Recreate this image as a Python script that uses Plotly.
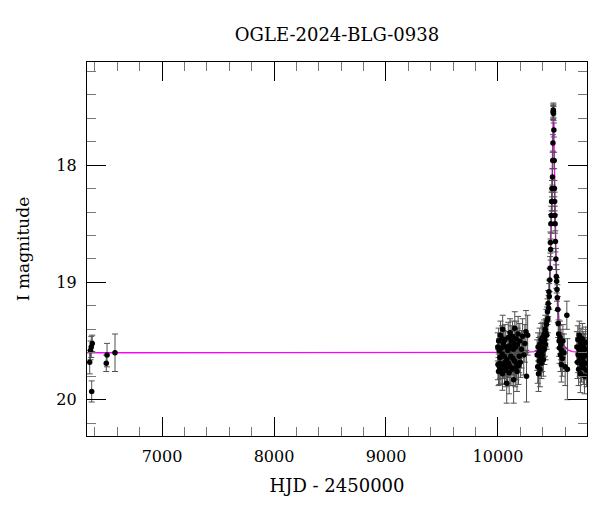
import plotly.graph_objects as go

# ---- photometry (HJD-2450000, I mag, error) ----
hjd_early = [6354, 6362, 6368, 6372, 6377, 6502, 6509, 6580]
mag_early = [19.68, 19.58, 19.55, 19.93, 19.52, 19.69, 19.62, 19.60]
err_early = [0.10, 0.08, 0.09, 0.09, 0.07, 0.07, 0.10, 0.16]

hjd_s1 = [9998, 10000, 10005, 10006, 10010, 10012, 10018, 10020, 10022, 10027,
          10030, 10035, 10038, 10040, 10042, 10048, 10050, 10055, 10058, 10062,
          10065, 10070, 10072, 10078, 10080, 10085, 10088, 10092, 10095, 10100,
          10103, 10108, 10110, 10115, 10118, 10122, 10125, 10130, 10133, 10138,
          10140, 10145, 10148, 10150, 10155, 10158, 10163, 10165, 10170, 10175,
          10180, 10183, 10190, 10195, 10200, 10210, 10220, 10230, 10240, 10250,
          10255, 10265]
mag_s1 = [19.55, 19.70, 19.76, 19.50, 19.58, 19.72, 19.64, 19.69, 19.45, 19.74,
          19.56, 19.48, 19.61, 19.78, 19.40, 19.70, 19.52, 19.63, 19.73, 19.49,
          19.68, 19.55, 19.75, 19.86, 19.66, 19.71, 19.58, 19.47, 19.69, 19.77,
          19.54, 19.43, 19.72, 19.63, 19.50, 19.56, 19.74, 19.46, 19.65, 19.57,
          19.83, 19.52, 19.67, 19.39, 19.73, 19.55, 19.48, 19.69, 19.76, 19.53,
          19.44, 19.71, 19.63, 19.50, 19.68, 19.57, 19.46, 19.62, 19.52, 19.42,
          19.80, 19.45]
err_s1 = [0.12, 0.13, 0.12, 0.11, 0.10, 0.15, 0.11, 0.13, 0.12, 0.12,
          0.10, 0.11, 0.15, 0.14, 0.12, 0.12, 0.11, 0.12, 0.14, 0.13,
          0.12, 0.13, 0.14, 0.17, 0.13, 0.15, 0.11, 0.13, 0.12, 0.18,
          0.12, 0.12, 0.16, 0.14, 0.13, 0.15, 0.14, 0.13, 0.14, 0.12,
          0.20, 0.12, 0.15, 0.14, 0.16, 0.13, 0.15, 0.14, 0.17, 0.14,
          0.15, 0.16, 0.14, 0.15, 0.13, 0.16, 0.15, 0.17, 0.16, 0.18,
          0.22, 0.17]

hjd_s2 = [10350, 10355, 10358, 10362, 10365, 10368, 10372, 10375, 10378, 10382,
          10385, 10388, 10392, 10395, 10398, 10402, 10405, 10408, 10412, 10415,
          10418, 10422, 10425, 10428, 10432, 10435, 10438, 10442, 10445, 10448,
          10452, 10455, 10458, 10462, 10465, 10468, 10470, 10473, 10476, 10479,
          10482, 10484, 10487, 10489, 10491, 10493, 10494, 10495, 10496, 10499,
          10502, 10504, 10506, 10508, 10510, 10513, 10517, 10521, 10524, 10527,
          10530, 10534, 10538, 10542, 10546, 10550, 10554, 10558, 10562, 10566,
          10570, 10575, 10580, 10590, 10600, 10615, 10620]
mag_s2 = [19.62, 19.72, 19.55, 19.78, 19.60, 19.67, 19.53, 19.74, 19.58, 19.64,
          19.49, 19.69, 19.56, 19.62, 19.47, 19.58, 19.66, 19.51, 19.44, 19.57,
          19.49, 19.40, 19.53, 19.43, 19.36, 19.45, 19.33, 19.25, 19.31, 19.18,
          19.22, 19.08, 19.12, 18.98, 18.88, 18.66, 18.72, 18.50, 18.43, 18.31,
          18.20, 18.31, 18.10, 17.96, 17.81, 17.55, 17.53, 17.54, 17.56, 17.70,
          17.96, 18.20, 18.31, 18.43, 18.50, 18.65, 18.80, 18.95, 18.99, 19.06,
          19.13, 19.23, 19.35, 19.44, 19.50, 19.56, 19.47, 19.62, 19.53, 19.70,
          19.58, 19.65, 19.50, 19.60, 19.72, 19.28, 19.74]
err_s2 = [0.13, 0.14, 0.12, 0.15, 0.13, 0.12, 0.14, 0.15, 0.12, 0.13,
          0.14, 0.13, 0.12, 0.14, 0.13, 0.12, 0.14, 0.13, 0.12, 0.13,
          0.14, 0.12, 0.13, 0.12, 0.13, 0.12, 0.12, 0.11, 0.12, 0.11,
          0.11, 0.10, 0.11, 0.10, 0.10, 0.09, 0.09, 0.08, 0.08, 0.08,
          0.07, 0.08, 0.07, 0.07, 0.07, 0.06, 0.06, 0.06, 0.06, 0.06,
          0.07, 0.07, 0.08, 0.08, 0.08, 0.09, 0.09, 0.10, 0.10, 0.10,
          0.11, 0.11, 0.12, 0.12, 0.13, 0.13, 0.14, 0.14, 0.13, 0.15,
          0.14, 0.15, 0.14, 0.16, 0.16, 0.12, 0.26]

hjd_s3 = [10705, 10710, 10713, 10716, 10720, 10723, 10726, 10730, 10733, 10736,
          10740, 10743, 10746, 10750, 10753, 10756, 10760, 10763, 10766, 10770,
          10773, 10776, 10780, 10783, 10786, 10790]
mag_s3 = [19.55, 19.68, 19.49, 19.62, 19.74, 19.57, 19.45, 19.66, 19.60, 19.78,
          19.52, 19.64, 19.70, 19.56, 19.48, 19.67, 19.59, 19.73, 19.54, 19.63,
          19.80, 19.57, 19.69, 19.51, 19.62, 19.75]
err_s3 = [0.13, 0.14, 0.12, 0.15, 0.14, 0.13, 0.12, 0.14, 0.13, 0.16,
          0.13, 0.14, 0.15, 0.12, 0.13, 0.14, 0.15, 0.14, 0.12, 0.14,
          0.15, 0.13, 0.14, 0.13, 0.15, 0.14]

# ---- model light curve ----
model_t = [6300, 10244, 10324, 10364, 10394, 10414, 10429, 10437, 10444, 10449,
           10454, 10459, 10464, 10469, 10474, 10478, 10482, 10484, 10486, 10489,
           10490.5, 10493, 10494, 10495, 10497.5, 10499, 10502, 10504, 10506,
           10510, 10514, 10519, 10524, 10529, 10534, 10539, 10544, 10551, 10559,
           10574, 10594, 10624, 10664, 10744, 10850]
model_m = [19.600, 19.597, 19.590, 19.575, 19.544, 19.496, 19.430, 19.375, 19.310,
           19.250, 19.176, 19.084, 18.969, 18.824, 18.639, 18.454, 18.226, 18.095,
           17.953, 17.736, 17.638, 17.534, 17.523, 17.534, 17.638, 17.736, 17.953,
           18.095, 18.226, 18.454, 18.639, 18.824, 18.969, 19.084, 19.176, 19.250,
           19.310, 19.375, 19.430, 19.496, 19.544, 19.575, 19.590, 19.597, 19.600]

hjd = hjd_early + hjd_s1 + hjd_s2 + hjd_s3
mag = mag_early + mag_s1 + mag_s2 + mag_s3
err = err_early + err_s1 + err_s2 + err_s3

FONT = "DejaVu Serif"

fig = go.Figure()
fig.add_trace(go.Scatter(x=model_t, y=model_m, mode="lines",
                         line=dict(color="#ff00ff", width=1.3), hoverinfo="skip"))
fig.add_trace(go.Scatter(
    x=hjd, y=mag, mode="markers",
    marker=dict(color="black", size=5.5),
    error_y=dict(type="data", array=err, visible=True,
                 color="#505050", thickness=1, width=3),
))

axis_common = dict(
    showline=True, linecolor="black", linewidth=1.2, mirror="allticks",
    ticks="inside", ticklen=19, tickwidth=1, tickcolor="black",
    showgrid=False, zeroline=False, automargin=False,
    tickformat="d", ticklabelstandoff=6,
    tickfont=dict(family=FONT, size=16, color="black"),
)

fig.update_xaxes(range=[6330, 10795], tick0=7000, dtick=1000,
                 minor=dict(ticks="inside", ticklen=9, dtick=200, tick0=7000,
                            tickcolor="#777777", tickwidth=1, showgrid=False),
                 title=dict(text="HJD - 2450000", font=dict(family=FONT, size=18, color="black"),
                            standoff=14),
                 **axis_common)
fig.update_yaxes(range=[20.31, 17.12], tick0=18, dtick=1,
                 minor=dict(ticks="inside", ticklen=9, dtick=0.2, tick0=18,
                            tickcolor="#777777", tickwidth=1, showgrid=False),
                 title=dict(text="I magnitude", font=dict(family=FONT, size=17, color="black"),
                            standoff=22),
                 **axis_common)

fig.update_layout(
    width=600, height=512,
    margin=dict(l=87, r=13, t=62, b=76),
    paper_bgcolor="white", plot_bgcolor="white",
    showlegend=False,
    title=dict(text="OGLE-2024-BLG-0938", x=0.5, xref="paper", y=1 - 35 / 512,
               yanchor="middle",
               font=dict(family=FONT, size=18, color="black")),
)

fig.write_html("out.html", config={"displayModeBar": False},
               post_script="document.body.style.margin='0px';document.body.style.overflow='hidden';")
